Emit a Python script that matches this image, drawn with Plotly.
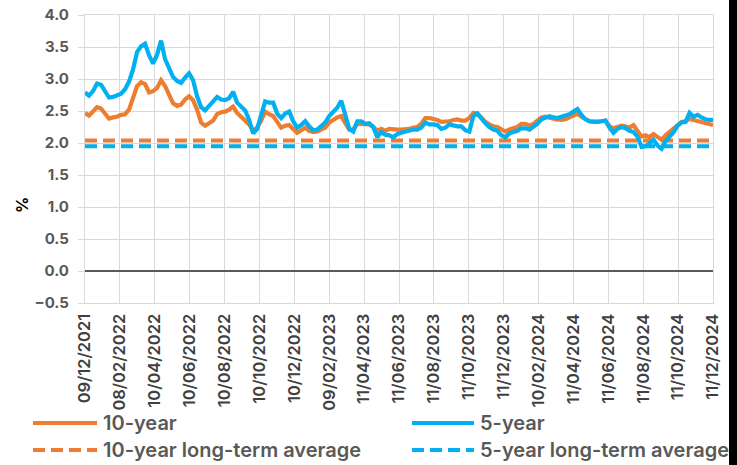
import pandas as pd
import plotly.graph_objects as go

# ---- data (weekly readings from the chart) ----
start_date = "2021-12-09"
end_date = "2024-12-11"

ten_year = [
    2.47, 2.43, 2.49, 2.56, 2.54, 2.47, 2.38, 2.40, 2.41, 2.44,
    2.45, 2.52, 2.69, 2.89, 2.95, 2.92, 2.79, 2.81, 2.86, 2.98,
    2.89, 2.77, 2.62, 2.58, 2.60, 2.68, 2.73, 2.67, 2.52, 2.32,
    2.27, 2.31, 2.35, 2.45, 2.48, 2.49, 2.52, 2.57, 2.47, 2.41,
    2.36, 2.29, 2.19, 2.24, 2.35, 2.49, 2.45, 2.42, 2.33, 2.24,
    2.27, 2.28, 2.22, 2.16, 2.20, 2.24, 2.19, 2.17, 2.18, 2.21,
    2.24, 2.32, 2.36, 2.40, 2.42, 2.30, 2.21, 2.21, 2.30, 2.30,
    2.29, 2.29, 2.25, 2.19, 2.22, 2.19, 2.22, 2.21, 2.21, 2.21,
    2.21, 2.22, 2.24, 2.25, 2.30, 2.39, 2.39, 2.38, 2.36, 2.33,
    2.33, 2.34, 2.36, 2.37, 2.35, 2.35, 2.39, 2.47, 2.46, 2.39,
    2.33, 2.29, 2.26, 2.25, 2.22, 2.18, 2.21, 2.23, 2.25, 2.30,
    2.30, 2.27, 2.30, 2.35, 2.40, 2.41, 2.39, 2.38, 2.37, 2.36,
    2.37, 2.40, 2.43, 2.46, 2.41, 2.37, 2.34, 2.33, 2.33, 2.34,
    2.35, 2.26, 2.23, 2.25, 2.27, 2.26, 2.24, 2.28, 2.20, 2.10,
    2.12, 2.09, 2.14, 2.09, 2.05, 2.12, 2.17, 2.23, 2.29, 2.33,
    2.34, 2.38, 2.36, 2.34, 2.32, 2.30, 2.28, 2.28,
]

five_year = [
    2.79, 2.74, 2.81, 2.93, 2.91, 2.82, 2.71, 2.72, 2.74, 2.77,
    2.84, 2.96, 3.15, 3.42, 3.51, 3.55, 3.37, 3.24, 3.38, 3.60,
    3.31, 3.16, 3.03, 2.97, 2.94, 3.02, 3.09, 2.98, 2.73, 2.56,
    2.51, 2.58, 2.64, 2.72, 2.68, 2.67, 2.70, 2.80, 2.63, 2.58,
    2.51, 2.36, 2.15, 2.22, 2.42, 2.65, 2.63, 2.63, 2.46, 2.39,
    2.46, 2.49, 2.34, 2.24, 2.28, 2.34, 2.26, 2.20, 2.21, 2.27,
    2.32, 2.42, 2.48, 2.55, 2.66, 2.41, 2.22, 2.18, 2.34, 2.34,
    2.30, 2.31, 2.25, 2.09, 2.17, 2.13, 2.12, 2.09, 2.14, 2.16,
    2.18, 2.19, 2.21, 2.21, 2.24, 2.32, 2.29, 2.29, 2.28, 2.22,
    2.24, 2.29, 2.27, 2.26, 2.26, 2.20, 2.18, 2.42, 2.46, 2.38,
    2.31, 2.25, 2.21, 2.19, 2.12, 2.09, 2.15, 2.17, 2.19, 2.23,
    2.23, 2.21, 2.25, 2.30, 2.37, 2.40, 2.42, 2.40, 2.39, 2.41,
    2.43, 2.45, 2.49, 2.53, 2.44, 2.37, 2.34, 2.33, 2.33, 2.34,
    2.35, 2.24, 2.16, 2.22, 2.25, 2.23, 2.19, 2.17, 2.10, 1.94,
    1.95, 1.99, 2.05, 1.96, 1.91, 2.03, 2.09, 2.17, 2.27, 2.32,
    2.33, 2.47, 2.41, 2.44, 2.40, 2.37, 2.36, 2.36,
]

avg_ten_year = 2.04
avg_five_year = 1.95

tick_labels = [
    "09/12/2021", "08/02/2022", "10/04/2022", "10/06/2022", "10/08/2022",
    "10/10/2022", "10/12/2022", "09/02/2023", "11/04/2023", "11/06/2023",
    "11/08/2023", "11/10/2023", "11/12/2023", "10/02/2024", "11/04/2024",
    "11/06/2024", "11/08/2024", "11/10/2024", "11/12/2024",
]

series_names = ["10-year", "5-year", "10-year long-term average", "5-year long-term average"]

# ---- build ----
dates = list(pd.date_range(start_date, periods=len(ten_year) - 1, freq="7D")) + [pd.Timestamp(end_date)]
tick_vals = [pd.to_datetime(t, format="%d/%m/%Y") for t in tick_labels]

ORANGE = "#ED7D31"
BLUE = "#00B0F0"
GRID = "#D9D9D9"
TXT = "#595959"
FONT = "Inter"

fig = go.Figure()
fig.add_trace(go.Scatter(x=[start_date, end_date], y=[avg_ten_year] * 2, mode="lines",
                         line=dict(color=ORANGE, width=4, dash="12px,6px"), name=series_names[2]))
fig.add_trace(go.Scatter(x=[start_date, end_date], y=[avg_five_year] * 2, mode="lines",
                         line=dict(color=BLUE, width=4, dash="12px,6px"), name=series_names[3]))
fig.add_trace(go.Scatter(x=dates, y=ten_year, mode="lines",
                         line=dict(color=ORANGE, width=4.2), name=series_names[0]))
fig.add_trace(go.Scatter(x=dates, y=five_year, mode="lines",
                         line=dict(color=BLUE, width=4.2), name=series_names[1]))

# figure is 729 px wide; the page background to its right is black (dark edge of the original)
W, H = 729, 465
L, R, T, B = 85, 16, 15, 162
PW, PH = W - L - R, H - T - B


def px(x):
    return (x - L) / PW


def py(y):
    return (H - B - y) / PH


shapes = []
annotations = []
legend_items = [
    (33, 97, 423, ORANGE, "solid", series_names[0]),
    (412, 474, 423, BLUE, "solid", series_names[1]),
    (33, 97, 450, ORANGE, "12px,6px", series_names[2]),
    (412, 474, 450, BLUE, "12px,6px", series_names[3]),
]
for x0, x1, yy, col, dash, label in legend_items:
    shapes.append(dict(type="line", xref="paper", yref="paper", x0=px(x0), x1=px(x1),
                       y0=py(yy), y1=py(yy), line=dict(color=col, width=4, dash=dash)))
    annotations.append(dict(xref="paper", yref="paper", x=px(x1 + 4), y=py(yy), text=label,
                            showarrow=False, xanchor="left", yanchor="middle",
                            font=dict(family=FONT, size=20, color=TXT, weight=600)))

# y-axis title
annotations.append(dict(xref="paper", yref="paper", x=px(22), y=py(205), text="%", textangle=-90,
                        showarrow=False, xanchor="center", yanchor="middle",
                        font=dict(family=FONT, size=16, color="#000000", weight="bold")))

fig.update_layout(
    width=W, height=H,
    margin=dict(l=L, r=R, t=T, b=B, autoexpand=False),
    paper_bgcolor="white", plot_bgcolor="white",
    showlegend=False,
    shapes=shapes, annotations=annotations,
    font=dict(family=FONT),
)
fig.update_xaxes(
    type="date", range=[start_date, end_date], automargin=False,
    tickmode="array", tickvals=tick_vals, ticktext=tick_labels, tickangle=-90,
    tickfont=dict(family=FONT, size=16.5, color="#404040", weight=600),
    ticklabelstandoff=3,
    showgrid=True, gridcolor=GRID, gridwidth=1.3,
    showline=True, linecolor=GRID, linewidth=1.3, mirror=True,
    ticks="", zeroline=False,
)
fig.update_yaxes(
    range=[-0.5, 4.0], dtick=0.5, tick0=0, tickformat=".1f", automargin=False,
    tickfont=dict(family=FONT, size=15, color=TXT, weight="bold"),
    showgrid=True, gridcolor=GRID, gridwidth=1.3,
    showline=True, linecolor=GRID, linewidth=1.3, mirror=True,
    ticks="outside", ticklen=6, tickcolor=GRID, tickwidth=1.3,
    ticklabelstandoff=6,
    zeroline=True, zerolinecolor="#595959", zerolinewidth=1.6,
)

fig.write_html("out.html", config={"displayModeBar": False},
               post_script="document.body.style.margin='0px';"
                           "document.body.style.background='#000000';"
                           "document.documentElement.style.background='#000000';")
